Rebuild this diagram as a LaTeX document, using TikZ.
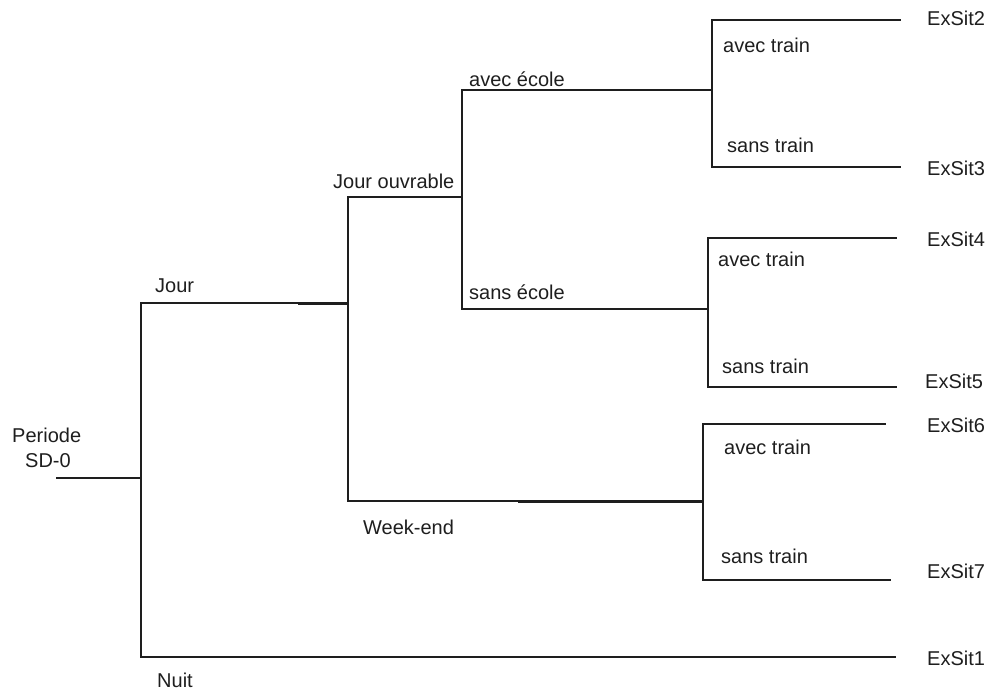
\documentclass[tikz,border=0pt]{standalone}
\usepackage{fontspec}
\setmainfont{Liberation Sans}
\definecolor{ink}{HTML}{1E1E1E}
\begin{document}
\begin{tikzpicture}[x=1pt,y=-1pt,
  branch/.style={draw=ink,line width=2pt,line cap=rect},
  seam/.style={draw=ink,line width=2.4pt},
  lbl/.style={anchor=base west,inner sep=0pt,text=ink,font=\fontsize{20}{24}\selectfont}]
\useasboundingbox (0,0) rectangle (989,691);

% branching points of the tree
\coordinate (root) at (57,478);
\coordinate (r0) at (141,478);
\coordinate (jourT) at (141,303);
\coordinate (nuitT) at (141,657);
\coordinate (jourE) at (348,303);
\coordinate (jouvT) at (348,197);
\coordinate (wkT) at (348,501);
\coordinate (jouvE) at (462,197);
\coordinate (aecT) at (462,90);
\coordinate (secT) at (462,309);
\coordinate (aecE) at (712,90);
\coordinate (secE) at (708,309);
\coordinate (wkE) at (703,501);
\coordinate (a1T) at (712,20);
\coordinate (s1T) at (712,167);
\coordinate (a2T) at (708,238);
\coordinate (s2T) at (708,387);
\coordinate (a3T) at (703,424);
\coordinate (s3T) at (703,580);
\coordinate (leaf2) at (900,20);
\coordinate (leaf3) at (900,167);
\coordinate (leaf4) at (896,238);
\coordinate (leaf5) at (896,387);
\coordinate (leaf6) at (885,424);
\coordinate (leaf7) at (890,580);
\coordinate (leaf1) at (895,657);

% connectors
\draw[branch] (root) -- (r0);
\draw[branch] (jourT) -- (nuitT);
\draw[branch] (jourT) -- (jourE);
\draw[branch] (nuitT) -- (leaf1);
\draw[branch] (jouvT) -- (wkT);
\draw[branch] (jouvT) -- (jouvE);
\draw[branch] (wkT) -- (wkE);
\draw[branch] (aecT) -- (secT);
\draw[branch] (aecT) -- (aecE);
\draw[branch] (secT) -- (secE);
\draw[branch] (a1T) -- (s1T);
\draw[branch] (a1T) -- (leaf2);
\draw[branch] (s1T) -- (leaf3);
\draw[branch] (a2T) -- (s2T);
\draw[branch] (a2T) -- (leaf4);
\draw[branch] (s2T) -- (leaf5);
\draw[branch] (a3T) -- (s3T);
\draw[branch] (a3T) -- (leaf6);
\draw[branch] (s3T) -- (leaf7);

% overdrawn joints on some branches
\coordinate (jourS) at (298,304);
\coordinate (jourS2) at (348,304);
\draw[seam] (jourS) -- (jourS2);
\coordinate (wkS) at (518,502);
\coordinate (wkS2) at (703,502);
\draw[seam] (wkS) -- (wkS2);

% labels
\node[lbl] (periode) at (12,442) {Periode};
\node[lbl] (sd) at (25,467) {SD-0};
\node[lbl] (jour) at (155,292) {Jour};
\node[lbl] (nuit) at (157,687) {Nuit};
\node[lbl] (jouv) at (333,188) {Jour ouvrable};
\node[lbl] (wk) at (363,534) {Week-end};
\node[lbl] (aec) at (469,86) {avec école};
\node[lbl] (sec) at (469,299) {sans école};
\node[lbl] (at1) at (723,52) {avec train};
\node[lbl] (st1) at (727,152) {sans train};
\node[lbl] (at2) at (718,266) {avec train};
\node[lbl] (st2) at (722,373) {sans train};
\node[lbl] (at3) at (724,454) {avec train};
\node[lbl] (st3) at (721,563) {sans train};
\node[lbl] (ex2) at (927,25) {ExSit2};
\node[lbl] (ex3) at (927,175) {ExSit3};
\node[lbl] (ex4) at (927,246) {ExSit4};
\node[lbl] (ex5) at (925,388) {ExSit5};
\node[lbl] (ex6) at (927,432) {ExSit6};
\node[lbl] (ex7) at (927,578) {ExSit7};
\node[lbl] (ex1) at (927,665) {ExSit1};
\end{tikzpicture}
\end{document}
